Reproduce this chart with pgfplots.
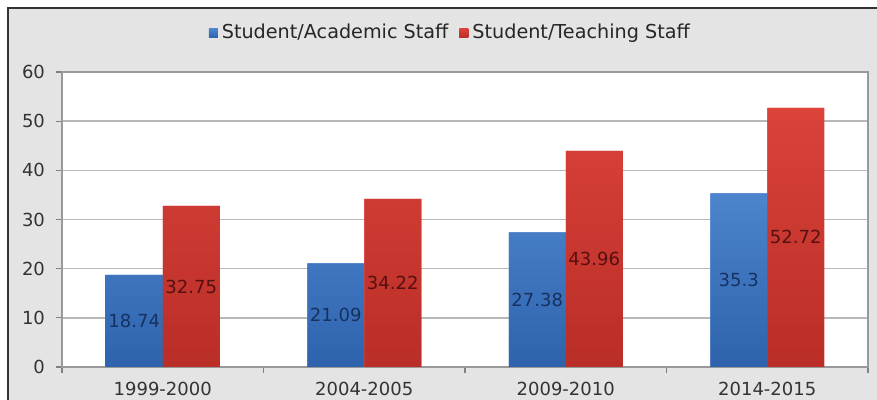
\documentclass[border=0pt]{standalone}
\usepackage{pgfplots}
\pgfplotsset{compat=1.18}
\usepackage{pgfplotstable}
\usepackage{fontspec}
\setmainfont{DejaVu Sans}
\definecolor{bgray}{HTML}{E4E4E4}
\definecolor{bluetop}{HTML}{4C84CE}
\definecolor{bluebot}{HTML}{2E62AC}
\definecolor{redtop}{HTML}{DA423A}
\definecolor{redbot}{HTML}{B92E27}
\definecolor{bluelab}{HTML}{16325E}
\definecolor{redlab}{HTML}{561010}
\pgfplotstableread{
x a b
0 18.74 32.75
1 21.09 34.22
2 27.38 43.96
3 35.3 52.72
}\datatable
\begin{document}
\begin{tikzpicture}
\clip (-31pt,-16.5pt) rectangle (407.5pt,183.5pt);
\fill[bgray, draw=black!80, line width=0.8pt] (-27pt,-40pt) rectangle (430pt,179.5pt);
\begin{axis}[
  at={(0pt,0pt)}, anchor=south west,
  scale only axis,
  width=403pt, height=147.5pt,
  xmin=-0.5, xmax=3.5, ymin=0, ymax=60,
  ytick={0,10,...,60},
  xtick={0,1,2,3},
  xticklabels={1999-2000,2004-2005,2009-2010,2014-2015},
  minor xtick={-0.5,0.5,1.5,2.5,3.5},
  major x tick style={draw=none},
  minor x tick style={draw=black!50, line width=0.6pt},
  minor tick length=3pt,
  major tick length=3pt,
  ytick style={draw=black!50, line width=0.6pt},
  tick align=outside,
  xtick pos=bottom, ytick pos=left,
  ymajorgrids,
  grid style={draw=black!28, line width=0.8pt},
  axis line style={draw=black!40, line width=0.6pt},
  axis background/.style={fill=white},
  /pgf/number format/assume math mode=true,
  tick label style={font=\fontsize{9}{11}\selectfont, text=black!80},
  yticklabel style={xshift=-2pt},
  xticklabel style={yshift=-1pt},
  legend columns=2,
  legend style={draw=none, fill=none, at={(0.483,1.132)}, anchor=center,
    font=\fontsize{9.6}{11}\selectfont, text=black!85,
    /tikz/every even column/.append style={column sep=3.5pt}},
  legend image code/.code={\fill[#1] (0pt,-2.25pt) rectangle (4.5pt,2.25pt);},
]
\addplot[ybar, bar width=28.5pt, bar shift=-14.25pt, draw=none,
  top color=bluetop, bottom color=bluebot, fill=bluetop]
  table[x=x, y=a] {\datatable};
\addlegendentry{Student/Academic Staff}
\addplot[ybar, bar width=28.5pt, bar shift=14.25pt, draw=none,
  top color=redtop, bottom color=redbot, fill=redtop]
  table[x=x, y=b] {\datatable};
\addlegendentry{Student/Teaching Staff}
\addplot[draw=none, mark=none, forget plot,
  nodes near coords, point meta=explicit symbolic,
  every node near coord/.style={anchor=center, xshift=-14.25pt,
    font=\fontsize{9}{11}\selectfont, text=bluelab}]
  table[x=x, y expr=\thisrow{a}/2, meta=a] {\datatable};
\addplot[draw=none, mark=none, forget plot,
  nodes near coords, point meta=explicit symbolic,
  every node near coord/.style={anchor=center, xshift=14.25pt,
    font=\fontsize{9}{11}\selectfont, text=redlab}]
  table[x=x, y expr=\thisrow{b}/2, meta=b] {\datatable};
\end{axis}
\end{tikzpicture}
\end{document}
